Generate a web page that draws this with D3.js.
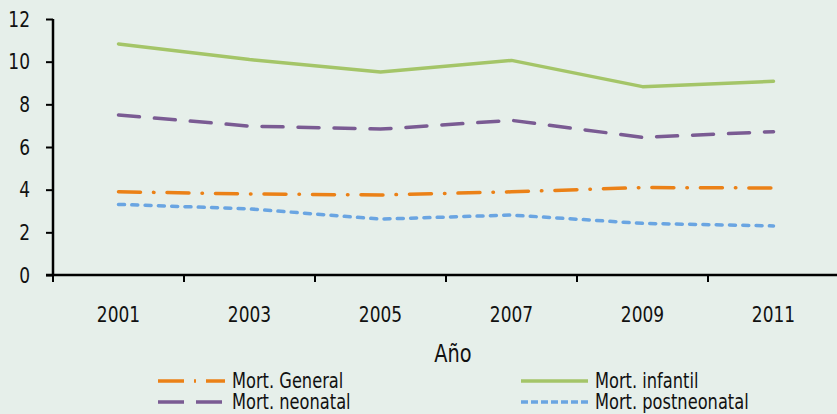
<!DOCTYPE html>
<html>
<head>
<meta charset="utf-8">
<script src="https://cdn.jsdelivr.net/npm/d3@7/dist/d3.min.js"></script>
<style>
    html, body { margin: 0; padding: 0; background: #e6efea; }
    svg { display: block; }
    text { font-family: "Liberation Sans Narrow", "DejaVu Sans Condensed", sans-serif; fill: #111; }
</style>
</head>
<body>
<div id="content"></div>
<script>
// data
const years = ["2001", "2003", "2005", "2007", "2009", "2011"];
const mortGeneral = [3.9, 3.8, 3.75, 3.9, 4.1, 4.08];
const mortInfantil = [10.83, 10.1, 9.52, 10.06, 8.83, 9.08];
const mortNeonatal = [7.5, 6.98, 6.84, 7.25, 6.45, 6.72];
const mortPostneonatal = [3.31, 3.1, 2.62, 2.81, 2.42, 2.3];
const yTicks = [0, 2, 4, 6, 8, 10, 12];

const series = [
    { name: "Mort. General", values: mortGeneral, color: "#eb8117", dash: "22,13,0.5,13", legendDash: "26,10,2,10" },
    { name: "Mort. infantil", values: mortInfantil, color: "#a4c568", dash: null, legendDash: null },
    { name: "Mort. neonatal", values: mortNeonatal, color: "#7a5b93", dash: "21,15", legendDash: "26,12" },
    { name: "Mort. postneonatal", values: mortPostneonatal, color: "#6aa5e2", dash: "6,7.3", legendDash: "7,3" }
];

const svgWidth = 837, svgHeight = 414;
const margin = { top: 19, right: -2, bottom: 139, left: 53 };
const width = svgWidth - margin.left - margin.right;
const height = svgHeight - margin.top - margin.bottom;
const squeeze = 0.86; // the reference font is narrower than what we have

// narrow the text horizontally, keeping its anchor point
function narrow(sel) {
    sel.each(function() {
        const t = d3.select(this);
        const x0 = +t.attr("x") || 0;
        t.attr("x", x0 / squeeze)
            .attr("transform", `scale(${squeeze}, 1)`);
    });
}

const svg = d3.select("#content")
    .append("svg")
    .attr("width", svgWidth)
    .attr("height", svgHeight);
const g = svg.append("g")
    .attr("transform", `translate(${margin.left}, ${margin.top})`);

// x axis: categories with ticks between them
const x = d3.scaleBand()
    .domain(years)
    .range([0, width]);
const y = d3.scaleLinear()
    .domain([0, 12])
    .range([height, 0]);

// tick marks at band boundaries
const boundaries = d3.range(years.length + 1).map(i => i * x.step());
g.append("g")
    .classed("x-ticks", true)
    .selectAll("line")
    .data(boundaries)
    .enter()
    .append("line")
    .attr("x1", d => d).attr("x2", d => d)
    .attr("y1", height).attr("y2", height + 7)
    .attr("stroke", "#000")
    .attr("stroke-width", 2);

g.append("g")
    .classed("x-axis", true)
    .attr("transform", `translate(0, ${height})`)
    .call(d3.axisBottom(x).tickSize(0).tickPadding(31))
    .call(sel => sel.select(".domain").remove())
    .selectAll("text")
    .style("font-size", "22px")
    .call(narrow);

g.append("line")
    .attr("x1", -7).attr("x2", width)
    .attr("y1", height).attr("y2", height)
    .attr("stroke", "#000")
    .attr("stroke-width", 2.5);

// y axis
const yAxis = g.append("g")
    .classed("y-axis", true)
    .call(d3.axisLeft(y).tickValues(yTicks).tickSize(7).tickPadding(16));
yAxis.select(".domain").attr("stroke-width", 2.5).attr("d", `M0,${height}V0`);
yAxis.selectAll(".tick line").attr("stroke-width", 2);
yAxis.selectAll("text").style("font-size", "22px").call(narrow);

// x label
g.append("text")
    .text("Año")
    .attr("x", 400)
    .attr("y", height + 87)
    .style("font-size", "25px")
    .style("text-anchor", "middle")
    .call(narrow);

const line = d3.line()
    .x((d, i) => x(years[i]) + x.bandwidth() / 2)
    .y(d => y(d));

g.append("g")
    .style("fill", "none")
    .selectAll("path")
    .data(series)
    .enter()
    .append("path")
    .attr("d", d => line(d.values))
    .attr("stroke", d => d.color)
    .attr("stroke-width", 3.5)
    .attr("stroke-linecap", "round")
    .attr("stroke-linejoin", "round")
    .attr("stroke-dasharray", d => d.dash);

// legend
const legendPos = [
    { x: 158, y: 381 },
    { x: 521, y: 381 },
    { x: 158, y: 402 },
    { x: 521, y: 402 }
];
const legend = svg.append("g")
    .selectAll("g")
    .data(series)
    .enter()
    .append("g")
    .attr("transform", (d, i) => `translate(${legendPos[i].x}, ${legendPos[i].y})`);
legend.append("line")
    .attr("x1", 0).attr("x2", 67)
    .attr("y1", 0).attr("y2", 0)
    .attr("stroke", d => d.color)
    .attr("stroke-width", 3.5)
    .attr("stroke-dasharray", d => d.legendDash);
legend.append("text")
    .text(d => d.name)
    .attr("x", 74)
    .attr("y", 7)
    .style("font-size", "21px")
    .call(narrow);
</script>
</body>
</html>
